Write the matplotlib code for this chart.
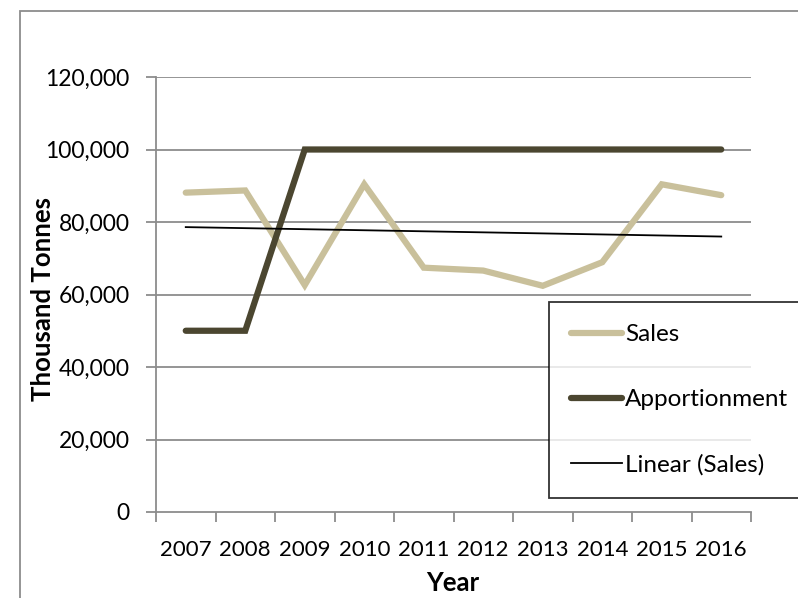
import numpy as np
import matplotlib
matplotlib.use("Agg")
import matplotlib.pyplot as plt
from matplotlib.patches import Rectangle
from matplotlib.ticker import FuncFormatter, FixedLocator

years = ["2007", "2008", "2009", "2010", "2011", "2012", "2013", "2014", "2015", "2016"]
sales = [88100, 88700, 62600, 90400, 67400, 66600, 62400, 68900, 90400, 87400]
apportionment = [50000, 50000, 100000, 100000, 100000, 100000, 100000, 100000, 100000, 100000]
yticks = [0, 20000, 40000, 60000, 80000, 100000, 120000]

plt.rcParams['font.family'] = ['Lato', 'DejaVu Sans']

fig = plt.figure(figsize=(7.98, 5.98), dpi=100)
W, H = 798, 598
ax = fig.add_axes([156 / W, 1 - 512 / H, (751 - 156) / W, (512 - 77) / H])

# outer chart border
fig.patches.append(Rectangle((20 / W, -0.1), 1.2, 1 - 11 / H + 0.1, transform=fig.transFigure,
                             fill=False, edgecolor='#8c8c8c', linewidth=1.3, zorder=0))

x = np.arange(len(years))
grid_c = '#8c8c8c'
for v in yticks[1:]:
    ax.axhline(v, color=grid_c, linewidth=1.3, zorder=1)

ax.plot(x, sales, color='#C9C09B', linewidth=4.5, solid_capstyle='round', solid_joinstyle='miter', label='Sales', zorder=3)
ax.plot(x, apportionment, color='#4B4630', linewidth=4.5, solid_capstyle='round', solid_joinstyle='miter', label='Apportionment', zorder=4)
coef = np.polyfit(x, sales, 1)
ax.plot(x, np.polyval(coef, x), color='black', linewidth=1.3, label='Linear (Sales)', zorder=5)

ax.set_xlim(-0.5, len(years) - 0.5)
ax.set_ylim(0, 120000)
ax.yaxis.set_major_locator(FixedLocator(yticks))
ax.yaxis.set_major_formatter(FuncFormatter(lambda v, p: f"{int(v):,}"))

ax.set_xticks(np.arange(-0.5, len(years)), minor=False)
ax.set_xticklabels([''] * (len(years) + 1))
ax.set_xticks(x, minor=True)
ax.set_xticklabels(years, minor=True)
ax.tick_params(axis='x', which='major', direction='out', length=7, width=1.3, color=grid_c)
ax.tick_params(axis='x', which='minor', length=0, pad=20, labelsize=16)
ax.tick_params(axis='y', direction='out', length=7, width=1.3, color=grid_c, labelsize=16.5, pad=12)

for s in ['top', 'right']:
    ax.spines[s].set_visible(False)
for s in ['left', 'bottom']:
    ax.spines[s].set_color(grid_c)
    ax.spines[s].set_linewidth(1.3)

ax.set_xlabel('Year', fontsize=18.5, fontweight='bold')
ax.set_ylabel('Thousand Tonnes', fontsize=18.5, fontweight='bold')
ax.xaxis.set_label_coords((453 - 156) / 595, (512 - 583) / 435)
ax.yaxis.set_label_coords((43 - 156) / 595, (512 - 299) / 435)
ax.xaxis.label.set_va('center')
ax.yaxis.label.set_va('center')

leg = ax.legend(loc='upper left', bbox_to_anchor=(549 / W, 1 - 302 / H), bbox_transform=fig.transFigure,
                fontsize=17.5, frameon=True, fancybox=False, handlelength=2.1, handletextpad=0.12,
                labelspacing=1.8, borderpad=0.92, borderaxespad=0)
leg.get_frame().set_edgecolor('black')
leg.get_frame().set_linewidth(1.3)
leg.set_zorder(10)

fig.savefig('out.png', dpi=100)
